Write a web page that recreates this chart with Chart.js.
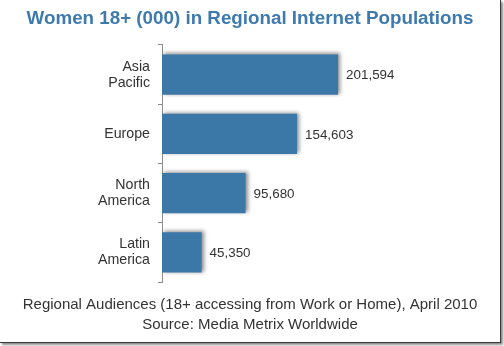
<!DOCTYPE html>
<html>
<head>
<meta charset="utf-8">
<script src="https://cdn.jsdelivr.net/npm/chart.js@4"></script>
<style>
  html, body { margin: 0; padding: 0; background: #ffffff; }
  #wrap {
    position: absolute; left: 0; top: 0; width: 500px; height: 342px;
    background: #ffffff;
    border-right: 1px solid #3a3a3a; border-bottom: 1px solid #3a3a3a;
    box-shadow: 2px 2px 2px rgba(0,0,0,0.45);
  }
  canvas { display: block; }
</style>
</head>
<body>
<div id="wrap"><canvas id="c" width="500" height="342"></canvas></div>
<script>
const categories = [["Asia", "Pacific"], "Europe", ["North", "America"], ["Latin", "America"]];
const values = [201594, 154603, 95680, 45350];
const titleText = "Women 18+ (000) in Regional Internet Populations";
const footerLines = ["Regional Audiences (18+ accessing from Work or Home), April 2010", "Source: Media Metrix Worldwide"];

const FONT = "'Liberation Sans', Arial, Helvetica, sans-serif";

const shadowPlugin = {
  id: 'barShadow',
  beforeDatasetDraw(chart) {
    const ctx = chart.ctx;
    ctx.save();
    ctx.shadowColor = 'rgba(0,0,0,0.45)';
    ctx.shadowBlur = 4;
    ctx.shadowOffsetX = 2;
    ctx.shadowOffsetY = -1;
  },
  afterDatasetDraw(chart) {
    chart.ctx.restore();
  }
};

const valueLabels = {
  id: 'valueLabels',
  afterDatasetsDraw(chart) {
    const ctx = chart.ctx;
    const meta = chart.getDatasetMeta(0);
    ctx.save();
    ctx.font = "13.4px " + FONT;
    ctx.fillStyle = '#333333';
    ctx.textAlign = 'left';
    ctx.textBaseline = 'middle';
    meta.data.forEach((bar, i) => {
      const v = chart.data.datasets[0].data[i];
      ctx.fillText(v.toLocaleString('en-US'), bar.x + 8, bar.y + 1);
    });
    ctx.restore();
  }
};

new Chart(document.getElementById('c'), {
  type: 'bar',
  data: {
    labels: categories,
    datasets: [{
      data: values,
      backgroundColor: '#3b77a7',
      borderWidth: 0,
      categoryPercentage: 1,
      barPercentage: 0.68
    }]
  },
  options: {
    indexAxis: 'y',
    responsive: false,
    animation: false,
    devicePixelRatio: 1,
    layout: { padding: { left: 0, right: 0, top: 0, bottom: 0 } },
    plugins: {
      legend: { display: false },
      tooltip: { enabled: false },
      title: {
        display: true,
        text: titleText,
        color: '#3e7aae',
        font: { family: FONT, size: 18.8, weight: 'bold', lineHeight: 1.2 },
        padding: { top: 7.7, bottom: 14.7 }
      },
      subtitle: {
        display: true,
        position: 'bottom',
        text: footerLines,
        color: '#333333',
        font: { family: FONT, size: 15, weight: 'normal', lineHeight: 20 / 15 },
        padding: { top: 13, bottom: 7 }
      }
    },
    scales: {
      x: {
        display: false,
        min: 0,
        max: 387000
      },
      y: {
        afterFit(scale) { scale.width = 162; },
        grid: {
          display: true,
          offset: true,
          drawOnChartArea: false,
          drawTicks: true,
          tickLength: 4,
          color: '#8c8c8c'
        },
        border: { display: true, color: '#8c8c8c', width: 1 },
        ticks: {
          color: '#333333',
          padding: 8,
          font: { family: FONT, size: 14.2, lineHeight: 16 / 14.2 }
        }
      }
    }
  },
  plugins: [shadowPlugin, valueLabels]
});
</script>
</body>
</html>
